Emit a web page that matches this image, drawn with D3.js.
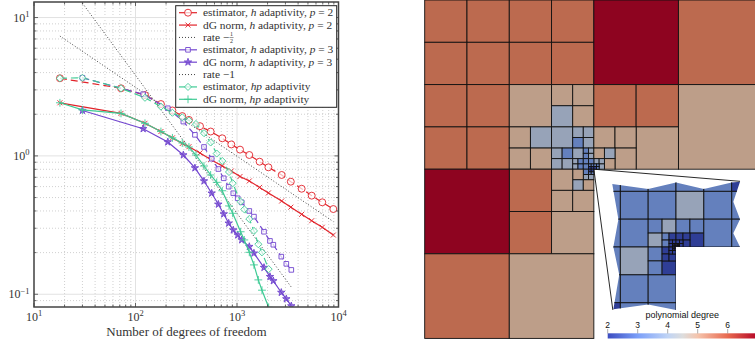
<!DOCTYPE html>
<html>
<head>
<meta charset="utf-8">
<script src="https://cdn.jsdelivr.net/npm/d3@7"></script>
<style>
  html, body { margin: 0; padding: 0; background: #fff; overflow: hidden; }
  svg { display: block; }
  text { font-family: "Liberation Serif", serif; fill: #333; }
</style>
</head>
<body>
<svg width="755" height="347"></svg>
<script>
// convergence plot data
const dofsP2 = [18, 72, 124, 178, 231, 289, 336, 432, 550, 716, 879, 1071, 1322, 1670, 2040, 2754, 3390, 4335, 5445, 6918, 8892];
const estimatorP2 = [3.64, 3.08, 2.75, 2.37, 2.13, 1.94, 1.82, 1.64, 1.50, 1.34, 1.21, 1.11, 1.015, 0.908, 0.827, 0.728, 0.651, 0.579, 0.516, 0.462, 0.413];
const dgNormP2 = [2.42, 2.03, 1.72, 1.50, 1.35, 1.23, 1.165, 1.05, 0.942, 0.845, 0.778, 0.71, 0.659, 0.592, 0.54, 0.472, 0.426, 0.378, 0.34, 0.305, 0.268];

const dofsP3 = [30, 119, 208, 296, 385, 473, 563, 655, 740, 828, 919, 1016, 1112, 1322, 1469, 1845, 2113, 2280, 2731, 3061, 3428];
const estimatorP3 = [3.67, 2.79, 2.21, 1.77, 1.42, 1.16, 0.954, 0.804, 0.689, 0.599, 0.537, 0.494, 0.462, 0.40, 0.364, 0.283, 0.243, 0.228, 0.187, 0.166, 0.15];
const dgNormP3 = [2.13, 1.57, 1.26, 1.015, 0.818, 0.658, 0.537, 0.447, 0.38, 0.326, 0.291, 0.268, 0.247, 0.221, 0.198, 0.156, 0.134, 0.125, 0.103, 0.0925, 0.0823];

const dofsHp = [18, 30, 72, 124, 178, 231, 289, 336, 394, 473, 550, 631, 716, 834, 907, 1086, 1180, 1322, 1469, 1622, 1762, 2051];
const estimatorHp = [3.64, 3.67, 3.08, 2.63, 2.27, 2.05, 1.90, 1.80, 1.70, 1.46, 1.25, 1.04, 0.919, 0.765, 0.634, 0.467, 0.411, 0.35, 0.287, 0.23, 0.201, 0.152];
const dgNormHp = [2.42, 2.15, 2.03, 1.72, 1.50, 1.35, 1.24, 1.16, 1.015, 0.845, 0.728, 0.644, 0.56, 0.435, 0.385, 0.283, 0.247, 0.201, 0.163, 0.127, 0.107, 0.0805];

const rateHalfX = [18, 8892];
const rateHalfY = [7.35, 0.335];
const rateOneX = [30, 3459];
const rateOneY = [12.7, 0.1116];

const legendLabels = [
  "estimator, *h* adaptivity, *p* = 2",
  "dG norm, *h* adaptivity, *p* = 2",
  "rate −",
  "estimator, *h* adaptivity, *p* = 3",
  "dG norm, *h* adaptivity, *p* = 3",
  "rate −1",
  "estimator, *hp* adaptivity",
  "dG norm, *hp* adaptivity"
];

const red = "#e2232a", purple = "#7246cf", green = "#3fcb95", dots = "#444";

const xTickMajor = [10, 100, 1000, 10000];
const xTickMajorExp = ["1", "2", "3", "4"];
const xTickMinor = [20, 30, 40, 50, 60, 70, 80, 90, 200, 300, 400, 500, 600, 700, 800, 900, 2000, 3000, 4000, 5000, 6000, 7000, 8000, 9000];
const yTickMajor = [0.1, 1, 10];
const yTickMajorExp = ["−1", "0", "1"];
const yTickMinor = [0.09, 0.2, 0.3, 0.4, 0.5, 0.6, 0.7, 0.8, 0.9, 2, 3, 4, 5, 6, 7, 8, 9];

// mesh: [column, row, size, polynomial degree] in coarse cell units
const meshCells = [
  [0,0,1,6],[1,0,1,6],[2,0,1,6],[3,0,1,6],[0,1,1,6],[1,1,1,6],[2,1,1,6],[3,1,1,6],
  [4,0,2,7],[6,0,2,6],[0,2,1,6],[1,2,1,6],[0,3,1,6],[1,3,1,6],[2,2,1,5],
  [3,2,.5,5],[3.5,2,.5,5],[3,2.5,.5,4],[3.5,2.5,.5,5],
  [2,3,.5,5],[2.5,3,.5,4],[2,3.5,.5,5],[2.5,3.5,.5,5],
  [3,3,.5,4],[3.5,3,.25,4],[3.75,3,.25,4],[3.5,3.25,.25,3],[3.75,3.25,.25,4],
  [3,3.5,.25,4],[3.25,3.5,.25,3],[3,3.75,.25,4],[3.25,3.75,.25,4],
  [3.5,3.5,.25,4],[3.75,3.5,.125,3],[3.875,3.5,.125,4],[3.75,3.625,.125,3],[3.875,3.625,.125,4],
  [3.5,3.75,.125,4],[3.625,3.75,.125,3],[3.5,3.875,.125,4],[3.625,3.875,.125,3],
  [4,2,1,6],[5,2,1,6],[6,2,2,5],[5,3,1,5],
  [4,3,.5,5],[4.5,3,.5,5],[4.5,3.5,.5,5],
  [4,3.5,.25,5],[4.25,3.5,.25,4],[4.25,3.75,.25,5],
  [4,3.75,.125,4],[4.125,3.75,.125,4],[4.125,3.875,.125,4],
  [3.75,3.75,.125,3],[3.875,3.75,.125,3],[3.75,3.875,.125,3],
  [3.875,3.875,.0625,3],[3.9375,3.875,.0625,3],[3.875,3.9375,.0625,2],[3.9375,3.9375,.0625,2],
  [4,3.875,.0625,3],[4.0625,3.875,.0625,3],[4,3.9375,.0625,2],[4.0625,3.9375,.0625,3],
  [3.875,4,.0625,2],[3.9375,4,.0625,2],[3.875,4.0625,.0625,3],[3.9375,4.0625,.0625,3],
  [3.75,4,.125,3],[3.75,4.125,.125,4],[3.875,4.125,.125,4],
  [3.5,4,.25,5],[3.5,4.25,.25,4],[3.75,4.25,.25,5],
  [3,4,.5,5],[3,4.5,.5,5],[3.5,4.5,.5,5],
  [2,4,1,6],[2,5,1,6],[3,5,1,5],[0,4,2,7],[0,6,2,6],[2,6,2,5]
];

// zoomed inset, same layout, units centred on the re-entrant corner
const insetCells = [
  [-3,-3,1,3],[-2,-3,1,3],[-1,-3,1,3],[0,-3,1,3],[1,-3,1,3],[2,-3,1,2],
  [-3,-2,1,3],[-3,-1,1,3],[-3,0,1,3],[-3,1,1,3],[-3,2,1,2],
  [-2,2,1,3],[-1,2,1,3],[2,-2,1,3],[2,-1,1,3],
  [-2,-2,1,3],[-1,-2,1,3],[0,-2,1,4],[1,-2,1,3],
  [-2,-1,1,3],[-1,-1,.5,3],[-.5,-1,.5,4],[-1,-.5,.5,4],
  [0,-1,.5,3],[.5,-1,.5,3],[.5,-.5,.5,2],[1,-1,1,3],
  [-2,0,1,4],[-1,0,.5,3],[-1,.5,.5,3],[-.5,.5,.5,2],[-2,1,1,3],[-1,1,1,3],
  [-.5,-.5,.25,3],[-.25,-.5,.25,2],[-.5,-.25,.25,3],
  [0,-.5,.25,2],[.25,-.5,.25,2],[.25,-.25,.25,2],
  [-.5,0,.25,2],[-.5,.25,.25,2],[-.25,.25,.25,2],
  [-.25,-.25,.125,2],[-.125,-.25,.125,2],[-.25,-.125,.125,2],
  [0,-.25,.125,2],[.125,-.25,.125,2],[.125,-.125,.125,2],
  [-.25,0,.125,2],[-.25,.125,.125,2],[-.125,.125,.125,2],
  [-.125,-.125,.0625,2],[-.0625,-.125,.0625,2],[-.125,-.0625,.0625,2],[-.0625,-.0625,.0625,2],
  [0,-.125,.0625,2],[.0625,-.125,.0625,2],[0,-.0625,.0625,2],[.0625,-.0625,.0625,2],
  [-.125,0,.0625,2],[-.0625,0,.0625,2],[-.125,.0625,.0625,2],[-.0625,.0625,.0625,2]
];

const insetOutline = [
  [-2.29,-2.26],[-1,-2.08],[0,-2.32],[1,-2.08],[2,-2.32],[2.3,-2.34],[2.06,-1.63],[2.3,-1],
  [2.06,-.49],[2.3,0],[0,0],[0,2.26],[-1,2.07],[-2.25,2.24],[-2.04,1],[-2.25,0],[-2.07,-1]
];

const degreeValues = [2, 3, 4, 5, 6, 7];
const degreeColors = ["#2f3e96", "#6480bd", "#97a3b8", "#bd9e89", "#bc6a4f", "#8e0420"];
const barDegrees = [2, 3, 4, 4.5, 5, 6, 7];
const barColors = ["#3b4cc0", "#7b9ff9", "#c0d4f5", "#dddddd", "#f5c4ac", "#e8694f", "#b40426"];
const barTicks = [2, 3, 4, 5, 6];

const svg = d3.select("svg");

// ---- left plot ----
const x = d3.scaleLog().domain([10, 10000]).range([34, 338.5]);
const y = d3.scaleLog().domain([0.0809, 12.95]).range([307, 2]);
const plotTop = y.range()[1], plotBottom = y.range()[0], plotLeft = x.range()[0], plotRight = x.range()[1];

const grid = svg.append("g");
grid.selectAll(".vMinor").data(xTickMinor).enter().append("line")
  .attr("x1", d => x(d)).attr("x2", d => x(d)).attr("y1", plotTop).attr("y2", plotBottom)
  .attr("stroke", "#c4c4c4").attr("stroke-width", 0.8).attr("stroke-dasharray", "1 2");
grid.selectAll(".hMinor").data(yTickMinor).enter().append("line")
  .attr("y1", d => y(d)).attr("y2", d => y(d)).attr("x1", plotLeft).attr("x2", plotRight)
  .attr("stroke", "#c4c4c4").attr("stroke-width", 0.8).attr("stroke-dasharray", "1 2");
grid.selectAll(".vMajor").data(xTickMajor).enter().append("line")
  .attr("x1", d => x(d)).attr("x2", d => x(d)).attr("y1", plotTop).attr("y2", plotBottom)
  .attr("stroke", "#e2e2e2").attr("stroke-width", 1);
grid.selectAll(".hMajor").data(yTickMajor).enter().append("line")
  .attr("y1", d => y(d)).attr("y2", d => y(d)).attr("x1", plotLeft).attr("x2", plotRight)
  .attr("stroke", "#e2e2e2").attr("stroke-width", 1);

svg.append("clipPath").attr("id", "plotClip").append("rect")
  .attr("x", plotLeft).attr("y", plotTop).attr("width", plotRight - plotLeft).attr("height", plotBottom - plotTop);

const plot = svg.append("g").attr("clip-path", "url(#plotClip)");

const series = [
  { xs: dofsP2, ys: estimatorP2, color: red, dash: "7 4", symbol: d3.symbolCircle, size: 38, hollow: true },
  { xs: dofsP2, ys: dgNormP2, color: red, symbol: d3.symbolTimes, size: 18 },
  { xs: rateHalfX, ys: rateHalfY, color: dots, dash: "1 2" },
  { xs: dofsP3, ys: estimatorP3, color: purple, dash: "7 4", symbol: d3.symbolSquare2, size: 27, hollow: true },
  { xs: dofsP3, ys: dgNormP3, color: purple, symbol: d3.symbolStar, size: 17, filled: true },
  { xs: rateOneX, ys: rateOneY, color: dots, dash: "1 2" },
  { xs: dofsHp, ys: estimatorHp, color: green, dash: "7 4", symbol: d3.symbolDiamond2, size: 32, hollow: true },
  { xs: dofsHp, ys: dgNormHp, color: green, symbol: d3.symbolPlus, size: 22 }
];

const line = d3.line().x(d => x(d[0])).y(d => y(d[1]));

function drawMarker(g, s, tx, ty) {
  if (!s.symbol) return;
  g.append("path")
    .attr("d", d3.symbol().type(s.symbol).size(s.size)())
    .attr("transform", `translate(${tx},${ty})`)
    .attr("fill", s.filled ? s.color : s.hollow ? "#fff" : "none")
    .attr("fill-opacity", s.filled ? 0.7 : s.hollow ? 0.7 : null)
    .attr("stroke", s.color)
    .attr("stroke-width", 0.9);
}

series.forEach(s => {
  const pts = d3.zip(s.xs, s.ys);
  plot.append("path").datum(pts).attr("d", line)
    .attr("fill", "none")
    .attr("stroke", s.color)
    .attr("stroke-width", s.symbol ? 1.2 : 1)
    .attr("stroke-dasharray", s.dash || null);
  pts.forEach(p => drawMarker(plot, s, x(p[0]), y(p[1])));
});

// frame and inward ticks
const frame = svg.append("g");
function ticks(values, scale, vertical, len) {
  values.forEach(v => {
    const p = scale(v);
    if (vertical) {
      frame.append("line").attr("x1", p).attr("x2", p).attr("y1", plotBottom).attr("y2", plotBottom - len).attr("stroke", "#444").attr("stroke-width", 0.8);
      frame.append("line").attr("x1", p).attr("x2", p).attr("y1", plotTop).attr("y2", plotTop + len).attr("stroke", "#444").attr("stroke-width", 0.8);
    } else {
      frame.append("line").attr("y1", p).attr("y2", p).attr("x1", plotLeft).attr("x2", plotLeft + len).attr("stroke", "#444").attr("stroke-width", 0.8);
      frame.append("line").attr("y1", p).attr("y2", p).attr("x1", plotRight).attr("x2", plotRight - len).attr("stroke", "#444").attr("stroke-width", 0.8);
    }
  });
}
ticks(xTickMajor, x, true, 4);
ticks(xTickMinor, x, true, 2.5);
ticks(yTickMajor, y, false, 4);
ticks(yTickMinor, y, false, 2.5);
frame.append("rect")
  .attr("x", plotLeft).attr("y", plotTop).attr("width", plotRight - plotLeft).attr("height", plotBottom - plotTop)
  .attr("fill", "none").attr("stroke", "#444").attr("stroke-width", 1.5);

function powerLabel(g, exp) {
  g.append("tspan").text("10");
  g.append("tspan").text(exp).attr("dy", -4.5).attr("font-size", 8.5);
}
xTickMajor.forEach((v, i) => {
  const t = svg.append("text").attr("x", x(v)).attr("y", 320.5).attr("text-anchor", "middle").attr("font-size", 12);
  powerLabel(t, xTickMajorExp[i]);
});
yTickMajor.forEach((v, i) => {
  const t = svg.append("text").attr("x", 29.5).attr("y", y(v) + 4).attr("text-anchor", "end").attr("font-size", 12);
  powerLabel(t, yTickMajorExp[i]);
});
svg.append("text").attr("x", 186.5).attr("y", 336).attr("text-anchor", "middle").attr("font-size", 13)
  .text("Number of degrees of freedom");

// legend
svg.append("rect").attr("x", 175.7).attr("y", 5.7).attr("width", 161).attr("height", 101.6)
  .attr("fill", "#fff").attr("stroke", "#222").attr("stroke-width", 1);
const legendY = d3.scaleLinear().domain([0, 7]).range([12.7, 99.3]);
series.forEach((s, i) => {
  const ly = legendY(i);
  const g = svg.append("g");
  g.append("line").attr("x1", 179).attr("x2", 197).attr("y1", ly).attr("y2", ly)
    .attr("stroke", s.color).attr("stroke-width", s.symbol ? 1.2 : 1)
    .attr("stroke-dasharray", s.symbol ? null : "1 2");
  drawMarker(g, s, 188, ly);
  const t = g.append("text").attr("x", 203).attr("y", ly + 3.5).attr("font-size", 11.4);
  legendLabels[i].split("*").forEach((part, k) => {
    t.append("tspan").attr("font-style", k % 2 ? "italic" : null).text(part);
  });
  if (i == 2) {
    const fx = t.node().getComputedTextLength() + 203 + 2.2;
    g.append("text").attr("x", fx).attr("y", ly - 1.2).attr("text-anchor", "middle").attr("font-size", 6).text("1");
    g.append("line").attr("x1", fx - 2).attr("x2", fx + 2).attr("y1", ly + 0.1).attr("y2", ly + 0.1).attr("stroke", "#333").attr("stroke-width", 0.5);
    g.append("text").attr("x", fx).attr("y", ly + 5.2).attr("text-anchor", "middle").attr("font-size", 6).text("2");
  }
});

// ---- right mesh ----
const degreeColor = d3.scaleOrdinal().domain(degreeValues).range(degreeColors);
const meshX = d3.scaleLinear().domain([0, 8]).range([424.7, 763]);
const meshY = d3.scaleLinear().domain([0, 8]).range([0, 338.4]);

svg.append("g").selectAll("rect").data(meshCells).enter().append("rect")
  .attr("x", d => meshX(d[0]))
  .attr("y", d => meshY(d[1]))
  .attr("width", d => meshX(d[0] + d[2]) - meshX(d[0]))
  .attr("height", d => meshY(d[1] + d[2]) - meshY(d[1]))
  .attr("fill", d => degreeColor(d[3]))
  .attr("stroke", "#111").attr("stroke-width", 0.9);

// inset
const insetX = d3.scaleLinear().domain([-3, 3]).range([592.5, 759.5]);
const insetY = d3.scaleLinear().domain([-3, 3]).range([163.5, 330.5]);

svg.append("clipPath").attr("id", "insetClip").append("polygon")
  .attr("points", insetOutline.map(d => [insetX(d[0]), insetY(d[1])].join(",")).join(" "));

svg.append("g").attr("clip-path", "url(#insetClip)")
  .selectAll("rect").data(insetCells).enter().append("rect")
  .attr("x", d => insetX(d[0]))
  .attr("y", d => insetY(d[1]))
  .attr("width", d => insetX(d[0] + d[2]) - insetX(d[0]))
  .attr("height", d => insetY(d[1] + d[2]) - insetY(d[1]))
  .attr("fill", d => degreeColor(d[3]))
  .attr("stroke", "#111").attr("stroke-width", 0.9);

// lines from the corner of the mesh out to the inset
svg.append("line")
  .attr("x1", meshX(4)).attr("y1", meshY(4)).attr("x2", insetX(2.3)).attr("y2", insetY(-2.36))
  .attr("stroke", "#111").attr("stroke-width", 0.9);
svg.append("line")
  .attr("x1", meshX(4)).attr("y1", meshY(4)).attr("x2", insetX(-2.27)).attr("y2", insetY(2.26))
  .attr("stroke", "#111").attr("stroke-width", 0.9);

// colour bar
const barX = d3.scaleLinear().domain([2, 7]).range([607.7, 757.7]);
const gradient = svg.append("linearGradient").attr("id", "barGradient");
barDegrees.forEach((d, i) => {
  gradient.append("stop").attr("offset", (d - 2) / 5).attr("stop-color", barColors[i]);
});
svg.append("rect").attr("x", barX(2)).attr("y", 333.3).attr("width", barX(7) - barX(2)).attr("height", 5.2)
  .attr("fill", "url(#barGradient)");
svg.selectAll(".barTick").data(barTicks).enter().append("line")
  .attr("x1", d => barX(d)).attr("x2", d => barX(d)).attr("y1", 329).attr("y2", 333.5)
  .attr("stroke", "#888").attr("stroke-width", 0.7);
svg.selectAll(".barLabel").data(barTicks).enter().append("text")
  .attr("x", d => barX(d)).attr("y", 327.8).attr("text-anchor", "middle")
  .style("font-family", '"Liberation Sans", sans-serif').style("fill", "#111")
  .attr("font-size", 8.5).text(d => d);
svg.append("text").attr("x", 682.3).attr("y", 317.8).attr("text-anchor", "middle")
  .style("font-family", '"Liberation Sans", sans-serif').style("fill", "#111")
  .attr("font-size", 9).text("polynomial degree");
</script>
</body>
</html>
